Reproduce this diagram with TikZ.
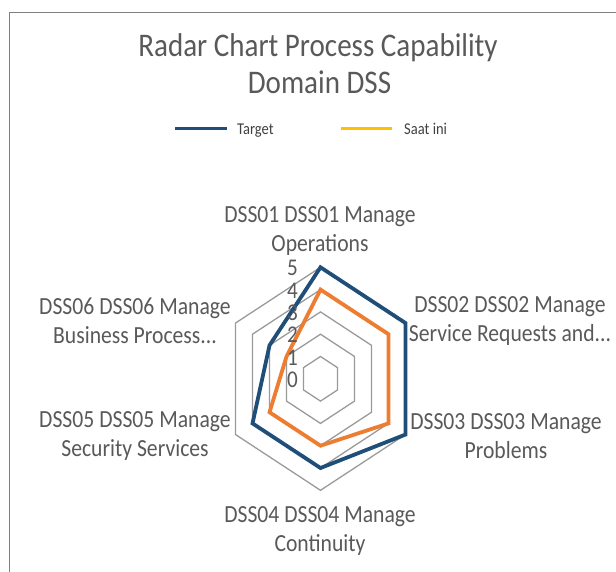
\documentclass[tikz,border=0pt]{standalone}
\usepackage{fontspec}
\setmainfont[FakeStretch=0.88]{Carlito}
\definecolor{tgt}{HTML}{1F4E79}
\definecolor{cur}{HTML}{ED7D31}
\definecolor{legcur}{HTML}{FFC000}
\definecolor{textgray}{HTML}{595959}
\definecolor{leggray}{HTML}{404040}
\definecolor{gridgray}{HTML}{9A9A9A}
\definecolor{framegray}{HTML}{808080}
\begin{document}
\begin{tikzpicture}[x=1pt,y=-1pt,
  txt/.style={text=textgray, inner sep=0pt},
  cat/.style={txt, align=center, font=\fontsize{24.6}{29.5}\selectfont},
  axlab/.style={txt, anchor=east, font=\fontsize{24}{28}\selectfont},
  legtxt/.style={text=leggray, inner sep=0pt, anchor=base west, font=\fontsize{16.5}{19}\selectfont},
  gridline/.style={draw=gridgray, line width=1.3pt},
  series/.style={line width=3.8pt, line join=miter},
]
\useasboundingbox (0,0) rectangle (616,572);
% frame
\draw[framegray, line width=0.9pt] (9,572) -- (9,12) -- (616,12);
% title
\node[txt, anchor=base, font=\fontsize{33}{36}\selectfont] (title1) at (318,57) {Radar Chart Process Capability};
\node[txt, anchor=base, font=\fontsize{33}{36}\selectfont] (title2) at (319.5,94) {Domain DSS};
% legend
\coordinate (lt1) at (175,129); \coordinate (lt2) at (227,129);
\draw[tgt, line width=3pt] (lt1) -- (lt2);
\node[legtxt] (legT) at (237,135) {Target};
\coordinate (lc1) at (341,129); \coordinate (lc2) at (392,129);
\draw[legcur, line width=3pt] (lc1) -- (lc2);
\node[legtxt] (legC) at (404,135) {Saat ini};
% radar
\begin{scope}[shift={(320.5,378.8)}, xscale=0.88, yscale=-1]
  \foreach \r in {22.3,44.6,66.9,89.2,111.5}
    \draw[gridline] (90:\r) -- (30:\r) -- (-30:\r) -- (-90:\r) -- (-150:\r) -- (150:\r) -- cycle;
  \coordinate (t1) at (90:111.5);
  \coordinate (t2) at (30:111.5);
  \coordinate (t3) at (-30:111.5);
  \coordinate (t4) at (-90:89.2);
  \coordinate (t5) at (-150:89.2);
  \coordinate (t6) at (150:66.9);
  \coordinate (s1) at (90:89.2);
  \coordinate (s2) at (30:89.2);
  \coordinate (s3) at (-30:89.2);
  \coordinate (s4) at (-90:66.9);
  \coordinate (s5) at (-150:66.9);
  \coordinate (s6) at (150:44.6);
  \draw[series, cur] (s1) -- (s2) -- (s3) -- (s4) -- (s5) -- (s6) -- cycle;
  \draw[series, tgt] (t1) -- (t2) -- (t3) -- (t4) -- (t5) -- (t6) -- cycle;
\end{scope}
% axis labels
\foreach \v in {0,...,5}
  \node[axlab] (ax\v) at (298,{379.8-22.3*\v}) {\v};
% category labels
\node[cat] (c1) at (320,231) {DSS01 DSS01 Manage\\Operations};
\node[cat] (c2) at (510,321) {DSS02 DSS02 Manage\\Service Requests and...};
\node[cat] (c3) at (506,436) {DSS03 DSS03 Manage\\Problems};
\node[cat] (c4) at (320,531) {DSS04 DSS04 Manage\\Continuity};
\node[cat] (c5) at (135,436) {DSS05 DSS05 Manage\\Security Services};
\node[cat] (c6) at (135,321) {DSS06 DSS06 Manage\\Business Process...};
\end{tikzpicture}
\end{document}
